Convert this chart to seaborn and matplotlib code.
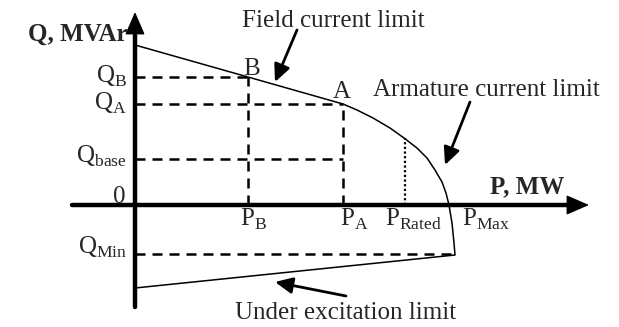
import matplotlib
matplotlib.use("Agg")
import matplotlib.pyplot as plt
import seaborn as sns
import pandas as pd

# schematic capability curve, arbitrary units (origin = P 0, Q 0)
field_p = [0, 113, 208]
field_q = [160, 128, 101]

armature_p = [208, 222, 238, 255, 269, 282, 292, 300, 307, 311, 314, 317, 319, 320]
armature_q = [101, 95, 87, 77, 67, 57, 47, 35, 23, 12, 0, -18, -38, -50]

under_p = [320, 0]
under_q = [-50, -83]

P_B, Q_B = 113, 128
P_A, Q_A = 208, 101
Q_BASE = 46
P_RATED, Q_RATED = 270, 67
P_MAX = 314
P_MIN_END, Q_MIN = 320, -49

sns.set_theme(style="white")
plt.rcParams["font.family"] = ["Liberation Serif", "DejaVu Serif"]
plt.rcParams["mathtext.fontset"] = "custom"
plt.rcParams["mathtext.rm"] = "Liberation Serif"
plt.rcParams["mathtext.bf"] = "Liberation Serif:bold"

fig = plt.figure(figsize=(6.19, 3.27), dpi=100)
ax = fig.add_axes([0, 0, 1, 1])
ax.set_xlim(-135, 484)
ax.set_ylim(-122, 205)
ax.axis("off")

FS = 18
dash = dict(color="black", lw=1.8, dashes=(4, 2.8))

# guide lines
ax.plot([0, P_B], [Q_B, Q_B], **dash)
ax.plot([P_B, P_B], [0, Q_B], **dash)
ax.plot([0, P_A], [Q_A, Q_A], **dash)
ax.plot([P_A, P_A], [0, Q_A], **dash)
ax.plot([0, P_A], [Q_BASE, Q_BASE], **dash)
ax.plot([0, P_MIN_END], [Q_MIN, Q_MIN], **dash)
ax.plot([P_RATED, P_RATED], [0, Q_RATED], color="black", lw=1.6, dashes=(1, 1.1))

# capability boundary
boundary = pd.DataFrame({
    "P": field_p + armature_p[1:] + under_p[1:],
    "Q": field_q + armature_q[1:] + under_q[1:],
})
sns.lineplot(data=boundary, x="P", y="Q", sort=False, estimator=None,
             color="black", lw=1.1, ax=ax)

# axes with arrows
ax.plot([-63, 440], [0, 0], color="black", lw=3.2, solid_capstyle="round")
ax.plot([0, 0], [-102, 170], color="black", lw=3.2, solid_capstyle="round")
head = dict(arrowstyle="-|>,head_length=0.6,head_width=0.26", color="black",
            lw=1, mutation_scale=24, shrinkA=0, shrinkB=0)
ax.annotate("", xy=(454, 0), xytext=(420, 0), arrowprops=head)
ax.annotate("", xy=(0, 193), xytext=(0, 160), arrowprops=head)

# pointer arrows
ptr = dict(arrowstyle="-|>,head_length=0.75,head_width=0.35", color="black",
           lw=2.0, mutation_scale=14, shrinkA=0, shrinkB=0)
ax.annotate("", xy=(140, 123), xytext=(162, 175), arrowprops=ptr)
ax.annotate("", xy=(310, 40), xytext=(335, 103), arrowprops=ptr)
ax.annotate("", xy=(140, -77), xytext=(211, -91), arrowprops=ptr)

# labels
ax.text(-8, 164, "Q, MVAr", fontsize=FS, fontweight="bold", ha="right", va="baseline")
ax.text(355, 12, "P, MW", fontsize=FS, fontweight="bold", ha="left", va="baseline")
ax.text(107, 178, "Field current limit", fontsize=FS, ha="left", va="baseline")
ax.text(238, 109, "Armature current limit", fontsize=FS, ha="left", va="baseline")
ax.text(100, -114, "Under excitation limit", fontsize=FS, ha="left", va="baseline")
ax.text(108, 130, "B", fontsize=FS, ha="left", va="baseline")
ax.text(198, 107, "A", fontsize=FS, ha="left", va="baseline")
ax.text(-9, 2, "0", fontsize=FS, ha="right", va="baseline")

q_labels = [r"Q$_\mathrm{B}$", r"Q$_\mathrm{A}$", r"Q$_\mathrm{base}$", r"Q$_\mathrm{Min}$"]
q_values = [Q_B, Q_A, Q_BASE, Q_MIN]
q_shift = [-6, -6, -4, 0]
for lab, q, s in zip(q_labels, q_values, q_shift):
    ax.text(-8, q + s, lab, fontsize=FS, ha="right", va="baseline")

p_labels = [r"P$_\mathrm{B}$", r"P$_\mathrm{A}$", r"P$_\mathrm{Rated}$", r"P$_\mathrm{Max}$"]
p_values = [P_B, P_A, P_RATED, P_MAX]
p_shift = [-8, -3, -20, 13]
for lab, p, s in zip(p_labels, p_values, p_shift):
    ax.text(p + s, -21, lab, fontsize=FS, ha="left", va="baseline")

fig.savefig("out.png", dpi=100)
